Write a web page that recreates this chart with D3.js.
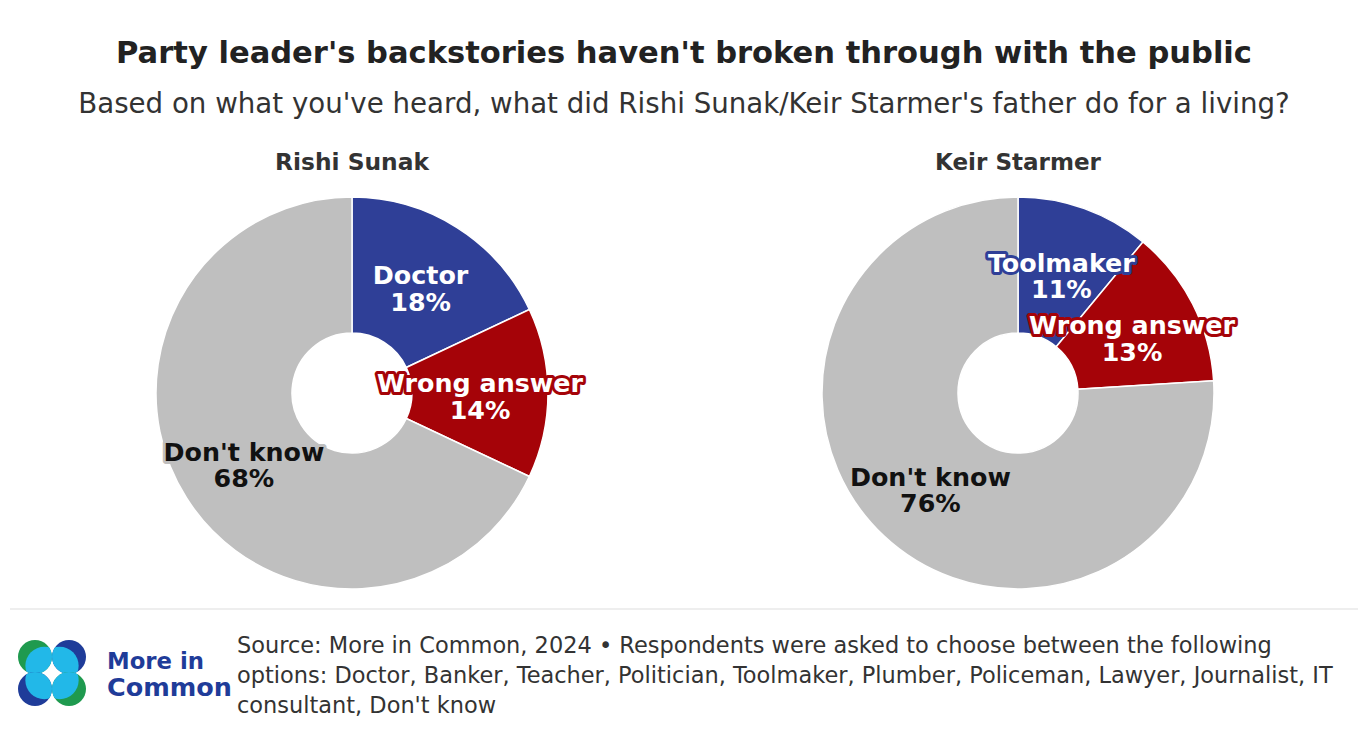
<!DOCTYPE html>
<html lang="en">
<head>
<meta charset="UTF-8">
<title>Party leader backstories</title>
<script src="https://cdn.jsdelivr.net/npm/d3@7"></script>
<style>
  body { margin: 0; background: #fff; }
  svg text { font-family: "DejaVu Sans", "Noto Sans", sans-serif; }
</style>
</head>
<body>
<svg width="1368" height="741"></svg>
<script>
// data
var leaders = ['Rishi Sunak', 'Keir Starmer'];
var sunakLabels = ['Doctor', 'Wrong answer', "Don't know"];
var sunakValues = [18, 14, 68];
var starmerLabels = ['Toolmaker', 'Wrong answer', "Don't know"];
var starmerValues = [11, 13, 76];
var sliceColors = ['#2f3f97', '#a50308', '#bfbfbf'];
var textColors = ['#fff', '#fff', '#111'];

var svg = d3.select('svg');

// shrink/grow a text's font so it spans the width seen in the picture
function fit(sel, w) {
  var size = parseFloat(sel.style('font-size'));
  var len = sel.node().getComputedTextLength();
  sel.style('font-size', (size * w / len).toFixed(2) + 'px');
  return sel;
}

// heading
fit(svg.append('text')
  .attr('x', 684).attr('y', 63)
  .attr('text-anchor', 'middle')
  .style('font-size', '28px').style('font-weight', 700).style('fill', '#222')
  .text("Party leader's backstories haven't broken through with the public"), 1136);
fit(svg.append('text')
  .attr('x', 684).attr('y', 113)
  .attr('text-anchor', 'middle')
  .style('font-size', '24px').style('fill', '#333')
  .text("Based on what you've heard, what did Rishi Sunak/Keir Starmer's father do for a living?"), 1212);

var pie = d3.pie().sort(null);
var arc = d3.arc().innerRadius(60).outerRadius(196);

function drawDonut(cx, name, nameW, labels, values) {
  var g = svg.append('g').attr('transform', 'translate(' + cx + ',393)');

  fit(svg.append('text')
    .attr('x', cx).attr('y', 170)
    .attr('text-anchor', 'middle')
    .style('font-size', '22px').style('font-weight', 700).style('fill', '#333')
    .text(name), nameW);

  var arcs = pie(values);
  g.selectAll('path').data(arcs).enter().append('path')
    .attr('d', arc)
    .attr('fill', function(d, i) { return sliceColors[i]; })
    .attr('stroke', '#fff').attr('stroke-width', 1.5);

  var lab = g.selectAll('text.lab').data(arcs).enter().append('text')
    .attr('class', 'lab')
    .attr('text-anchor', 'middle')
    .attr('transform', function(d) {
      var c = arc.centroid(d);
      return 'translate(' + c[0] + ',' + (c[1] + 3) + ')';
    })
    .style('font-size', '24px').style('font-weight', 700)
    .style('paint-order', 'stroke')
    .attr('stroke', function(d, i) { return sliceColors[i]; })
    .attr('stroke-width', 6).attr('stroke-linejoin', 'round')
    .attr('fill', function(d, i) { return textColors[i]; });
  lab.append('tspan').attr('x', 0).attr('dy', '-0.15em')
    .text(function(d, i) { return labels[i]; });
  lab.append('tspan').attr('x', 0).attr('dy', '1.05em')
    .text(function(d) { return d.data + '%'; });

  // size all labels from the "Wrong answer" width (206px in the picture)
  var probe = lab.filter(function(d, i) { return i === 1; }).select('tspan');
  var k = 206 / probe.node().getComputedTextLength();
  lab.style('font-size', (24 * k).toFixed(2) + 'px');
}

drawDonut(352, leaders[0], 154, sunakLabels, sunakValues);
drawDonut(1018, leaders[1], 166, starmerLabels, starmerValues);

// divider
svg.append('line')
  .attr('x1', 10).attr('x2', 1358).attr('y1', 609).attr('y2', 609)
  .attr('stroke', '#ddd').attr('stroke-width', 1);

// logo
var logo = svg.append('g').attr('transform', 'translate(52,673)');
var bubbles = [
  { x: -17, y: -16, c: '#1f9a4f' },
  { x: 17, y: -16, c: '#1f3c99' },
  { x: -17, y: 16, c: '#1f3c99' },
  { x: 17, y: 16, c: '#1f9a4f' }
];
var defs = svg.append('defs');
bubbles.forEach(function(b, i) {
  defs.append('clipPath').attr('id', 'clip' + i)
    .append('circle').attr('cx', b.x).attr('cy', b.y).attr('r', 17);
  logo.append('circle').attr('cx', b.x).attr('cy', b.y).attr('r', 17).attr('fill', b.c);
  logo.append('circle')
    .attr('clip-path', 'url(#clip' + i + ')')
    .attr('cx', b.x * 0.45).attr('cy', b.y * 0.45).attr('r', 19)
    .attr('fill', '#22b8e8');
});
logo.append('path')
  .attr('d', 'M0,-8 Q0,0 8,0 Q0,0 0,8 Q0,0 -8,0 Q0,0 0,-8Z')
  .attr('fill', '#fff');
fit(svg.append('text').attr('x', 107).attr('y', 669)
  .style('font-size', '24px').style('font-weight', 700).style('fill', '#1f3c99')
  .text('More in'), 97);
fit(svg.append('text').attr('x', 107).attr('y', 696)
  .style('font-size', '24px').style('font-weight', 700).style('fill', '#1f3c99')
  .text('Common'), 125);

// source note
var notes = [
  'Source: More in Common, 2024 \u2022 Respondents were asked to choose between the following',
  'options: Doctor, Banker, Teacher, Politician, Toolmaker, Plumber, Policeman, Lawyer, Journalist, IT',
  "consultant, Don't know"
];
var noteSel = svg.selectAll('text.note').data(notes).enter().append('text')
  .attr('class', 'note')
  .attr('x', 237)
  .attr('y', function(d, i) { return 653 + i * 30; })
  .style('font-size', '22px').style('fill', '#333')
  .text(function(d) { return d; });
var first = noteSel.filter(function(d, i) { return i === 0; });
var noteSize = 22 * 1035 / first.node().getComputedTextLength();
noteSel.style('font-size', noteSize.toFixed(2) + 'px');
</script>
</body>
</html>
